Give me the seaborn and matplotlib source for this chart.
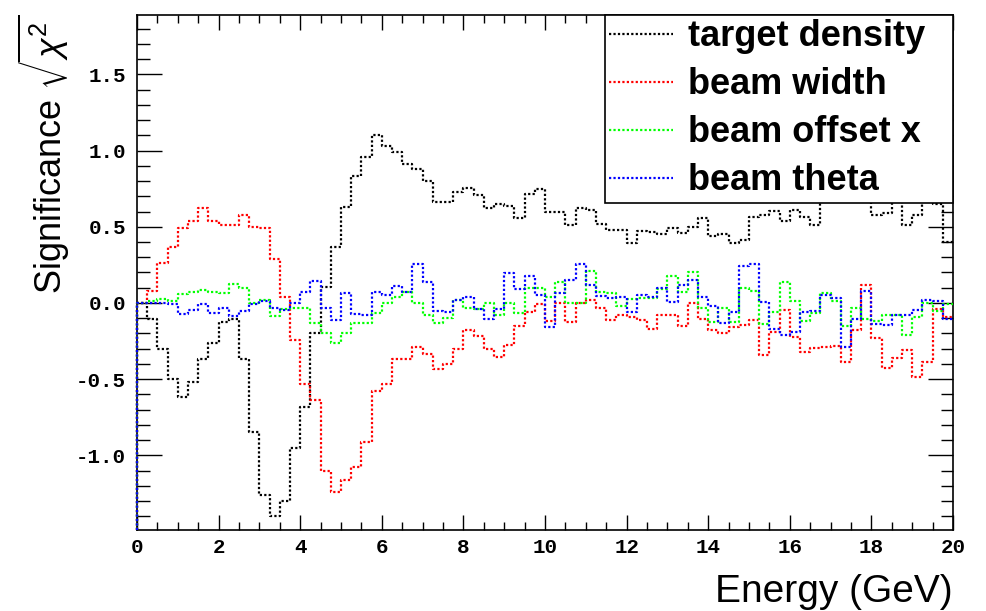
import numpy as np
import pandas as pd
import matplotlib
matplotlib.use("Agg")
import matplotlib.pyplot as plt
from matplotlib.ticker import MultipleLocator, FormatStrFormatter
from matplotlib.lines import Line2D
import seaborn as sns

# --- data: significance per 0.25 GeV energy bin, 0..20 GeV ---
bin_width = 0.25
series_names = ["target density", "beam width", "beam offset x", "beam theta"]
series_colors = ["#000000", "#ff0000", "#00ff00", "#0000ff"]

target_density = [
    0.0, -0.105, -0.30, -0.50, -0.62, -0.52, -0.37, -0.26, -0.125, -0.105,
    -0.37, -0.85, -1.26, -1.40, -1.30, -0.95, -0.68, -0.20, 0.105, 0.37,
    0.63, 0.83, 0.955, 1.10, 1.03, 0.99, 0.91, 0.88, 0.80, 0.66,
    0.66, 0.73, 0.755, 0.71, 0.62, 0.65, 0.635, 0.56, 0.715, 0.75,
    0.60, 0.60, 0.51, 0.625, 0.61, 0.52, 0.48, 0.48, 0.395, 0.475,
    0.465, 0.455, 0.49, 0.46, 0.50, 0.56, 0.44, 0.455, 0.395, 0.41,
    0.565, 0.575, 0.605, 0.54, 0.61, 0.565, 0.51, 0.72, 0.70, 0.68,
    0.70, 0.72, 0.575, 0.59, 0.68, 0.51, 0.575, 0.67, 0.65, 0.40,
]
beam_width = [
    0.0, 0.08, 0.26, 0.37, 0.49, 0.54, 0.62, 0.54, 0.51, 0.51,
    0.58, 0.50, 0.49, 0.29, 0.04, -0.24, -0.53, -0.64, -1.10, -1.24,
    -1.165, -1.075, -0.91, -0.58, -0.535, -0.37, -0.365, -0.29, -0.335, -0.435,
    -0.40, -0.30, -0.18, -0.215, -0.30, -0.355, -0.275, -0.15, -0.06, -0.005,
    -0.12, 0.0, -0.125, 0.0, 0.02, -0.03, -0.11, -0.08, -0.09, -0.11,
    -0.17, -0.08, -0.08, -0.15, 0.0, -0.105, -0.175, -0.20, -0.155, -0.145,
    -0.11, -0.34, -0.19, -0.045, -0.225, -0.325, -0.295, -0.29, -0.28, -0.385,
    -0.175, 0.12, -0.23, -0.43, -0.36, -0.31, -0.485, -0.385, -0.04, -0.09,
]
beam_offset_x = [
    0.0, 0.01, 0.026, 0.015, 0.06, 0.075, 0.088, 0.075, 0.066, 0.125,
    0.097, 0.0, 0.02, -0.083, -0.04, -0.03, -0.033, -0.134, -0.20, -0.263,
    -0.20, -0.134, -0.134, -0.066, 0.0, 0.04, 0.075, 0.0, -0.08, -0.134,
    -0.10, 0.02, -0.03, -0.04, 0.0, -0.08, 0.0, -0.065, 0.10, 0.095,
    0.037, 0.136, 0.0, 0.0, 0.208, 0.075, 0.066, -0.022, 0.026, 0.03,
    0.035, 0.092, 0.18, 0.07, 0.206, -0.03, -0.123, -0.03, -0.127, 0.10,
    0.08, -0.138, -0.061, 0.136, 0.015, -0.116, -0.066, 0.064, 0.015, -0.15,
    -0.035, -0.105, -0.12, -0.08, -0.08, -0.21, -0.09, 0.0, -0.05, -0.01,
]
beam_theta = [
    0.0, 0.0, 0.0, -0.01, -0.072, -0.046, -0.007, -0.066, -0.033, -0.088,
    -0.05, -0.01, 0.015, -0.03, -0.046, 0.0, 0.075, 0.147, -0.035, -0.11,
    0.064, -0.072, -0.079, 0.075, 0.05, 0.108, 0.07, 0.256, 0.136, -0.05,
    -0.057, 0.02, 0.037, -0.042, -0.107, -0.04, 0.195, 0.09, 0.18, 0.052,
    -0.16, 0.064, 0.152, 0.256, 0.12, 0.048, 0.035, 0.04, -0.061, 0.053,
    0.037, 0.097, 0.009, 0.12, 0.15, 0.038, -0.022, -0.134, -0.06, 0.245,
    0.255, 0.005, -0.171, -0.21, -0.19, -0.061, -0.055, 0.055, 0.031, -0.29,
    -0.105, 0.077, -0.138, -0.147, -0.08, -0.08, -0.047, 0.022, 0.015, -0.105,
]

ymin, ymax = -1.49, 1.89
xmin, xmax = 0.0, 20.0

sns.set_theme(style="white")
plt.rcParams["font.family"] = ["Liberation Sans", "DejaVu Sans"]
plt.rcParams["mathtext.fontset"] = "custom"
plt.rcParams["mathtext.rm"] = "Liberation Sans"
plt.rcParams["mathtext.it"] = "Liberation Sans:italic"
for key in ["text.color", "axes.labelcolor", "xtick.color", "ytick.color"]:
    plt.rcParams[key] = "black"

# histogram outlines, ROOT style: rise from the frame bottom at x=0
frames = []
for name, vals in zip(series_names, [target_density, beam_width, beam_offset_x, beam_theta]):
    vals = np.asarray(vals, dtype=float)
    n = len(vals)
    x = np.concatenate([[0.0], np.arange(n) * bin_width, [n * bin_width]])
    y = np.concatenate([[ymin], vals, [vals[-1]]])
    frames.append(pd.DataFrame({"energy": x, "value": y, "series": name}))
df = pd.concat(frames, ignore_index=True)

fig = plt.figure(figsize=(9.86, 6.11), dpi=100)
ax = fig.add_axes([0.1390, 0.1326, 0.8276, 0.8429])

sns.lineplot(data=df, x="energy", y="value", hue="series", hue_order=series_names,
             palette=dict(zip(series_names, series_colors)), estimator=None, sort=False,
             drawstyle="steps-post", linestyle=(0, (1, 1)), linewidth=1.6,
             legend=False, ax=ax)
for ln in ax.lines:
    ln.set_zorder(4)
    ln.set_clip_on(False)

ax.set_xlim(xmin, xmax)
ax.set_ylim(ymin, ymax)

ax.xaxis.set_major_locator(MultipleLocator(2))
ax.xaxis.set_minor_locator(MultipleLocator(0.5))
ax.yaxis.set_major_locator(MultipleLocator(0.5))
ax.yaxis.set_minor_locator(MultipleLocator(0.1))
ax.xaxis.set_major_formatter(FormatStrFormatter("%d"))
ax.yaxis.set_major_formatter(FormatStrFormatter("%.1f"))

ax.tick_params(axis="x", which="major", direction="in", length=11, width=1, top=True, bottom=True, pad=6)
ax.tick_params(axis="x", which="minor", direction="in", length=5.5, width=1, top=True, bottom=True)
ax.tick_params(axis="y", which="major", direction="in", length=18, width=1, left=True, right=True, pad=8)
ax.tick_params(axis="y", which="minor", direction="in", length=9, width=1, left=True, right=True)
for lab in ax.get_xticklabels() + ax.get_yticklabels():
    lab.set_fontfamily("Liberation Mono")
    lab.set_fontweight("bold")
    lab.set_fontsize(15)

for sp in ax.spines.values():
    sp.set_color("black")
    sp.set_linewidth(1.2)
    sp.set_zorder(3)

ax.set_xlabel("Energy (GeV)", fontsize=28, loc="right", labelpad=12)
ax.set_ylabel(r"Significance $\sqrt{\chi^{2}}$", fontsize=26, loc="top", labelpad=3)

handles = [Line2D([], [], color=c, linestyle=(0, (1, 1)), linewidth=1.6) for c in series_colors]
leg_x0 = (605 - 137) / 816
leg = ax.legend(handles, series_names, loc="upper left", bbox_to_anchor=(leg_x0, 0.0, 1.0 - leg_x0, 1.0),
                mode="expand", borderaxespad=0, frameon=True, fancybox=False, framealpha=1,
                edgecolor="black", handlelength=1.75, handletextpad=0.42,
                labelspacing=0.36, borderpad=0.12,
                prop={"family": "Liberation Sans", "weight": "bold", "size": 26})
leg.get_frame().set_linewidth(1.2)
leg.set_zorder(6)

fig.savefig("out.png", dpi=100)
